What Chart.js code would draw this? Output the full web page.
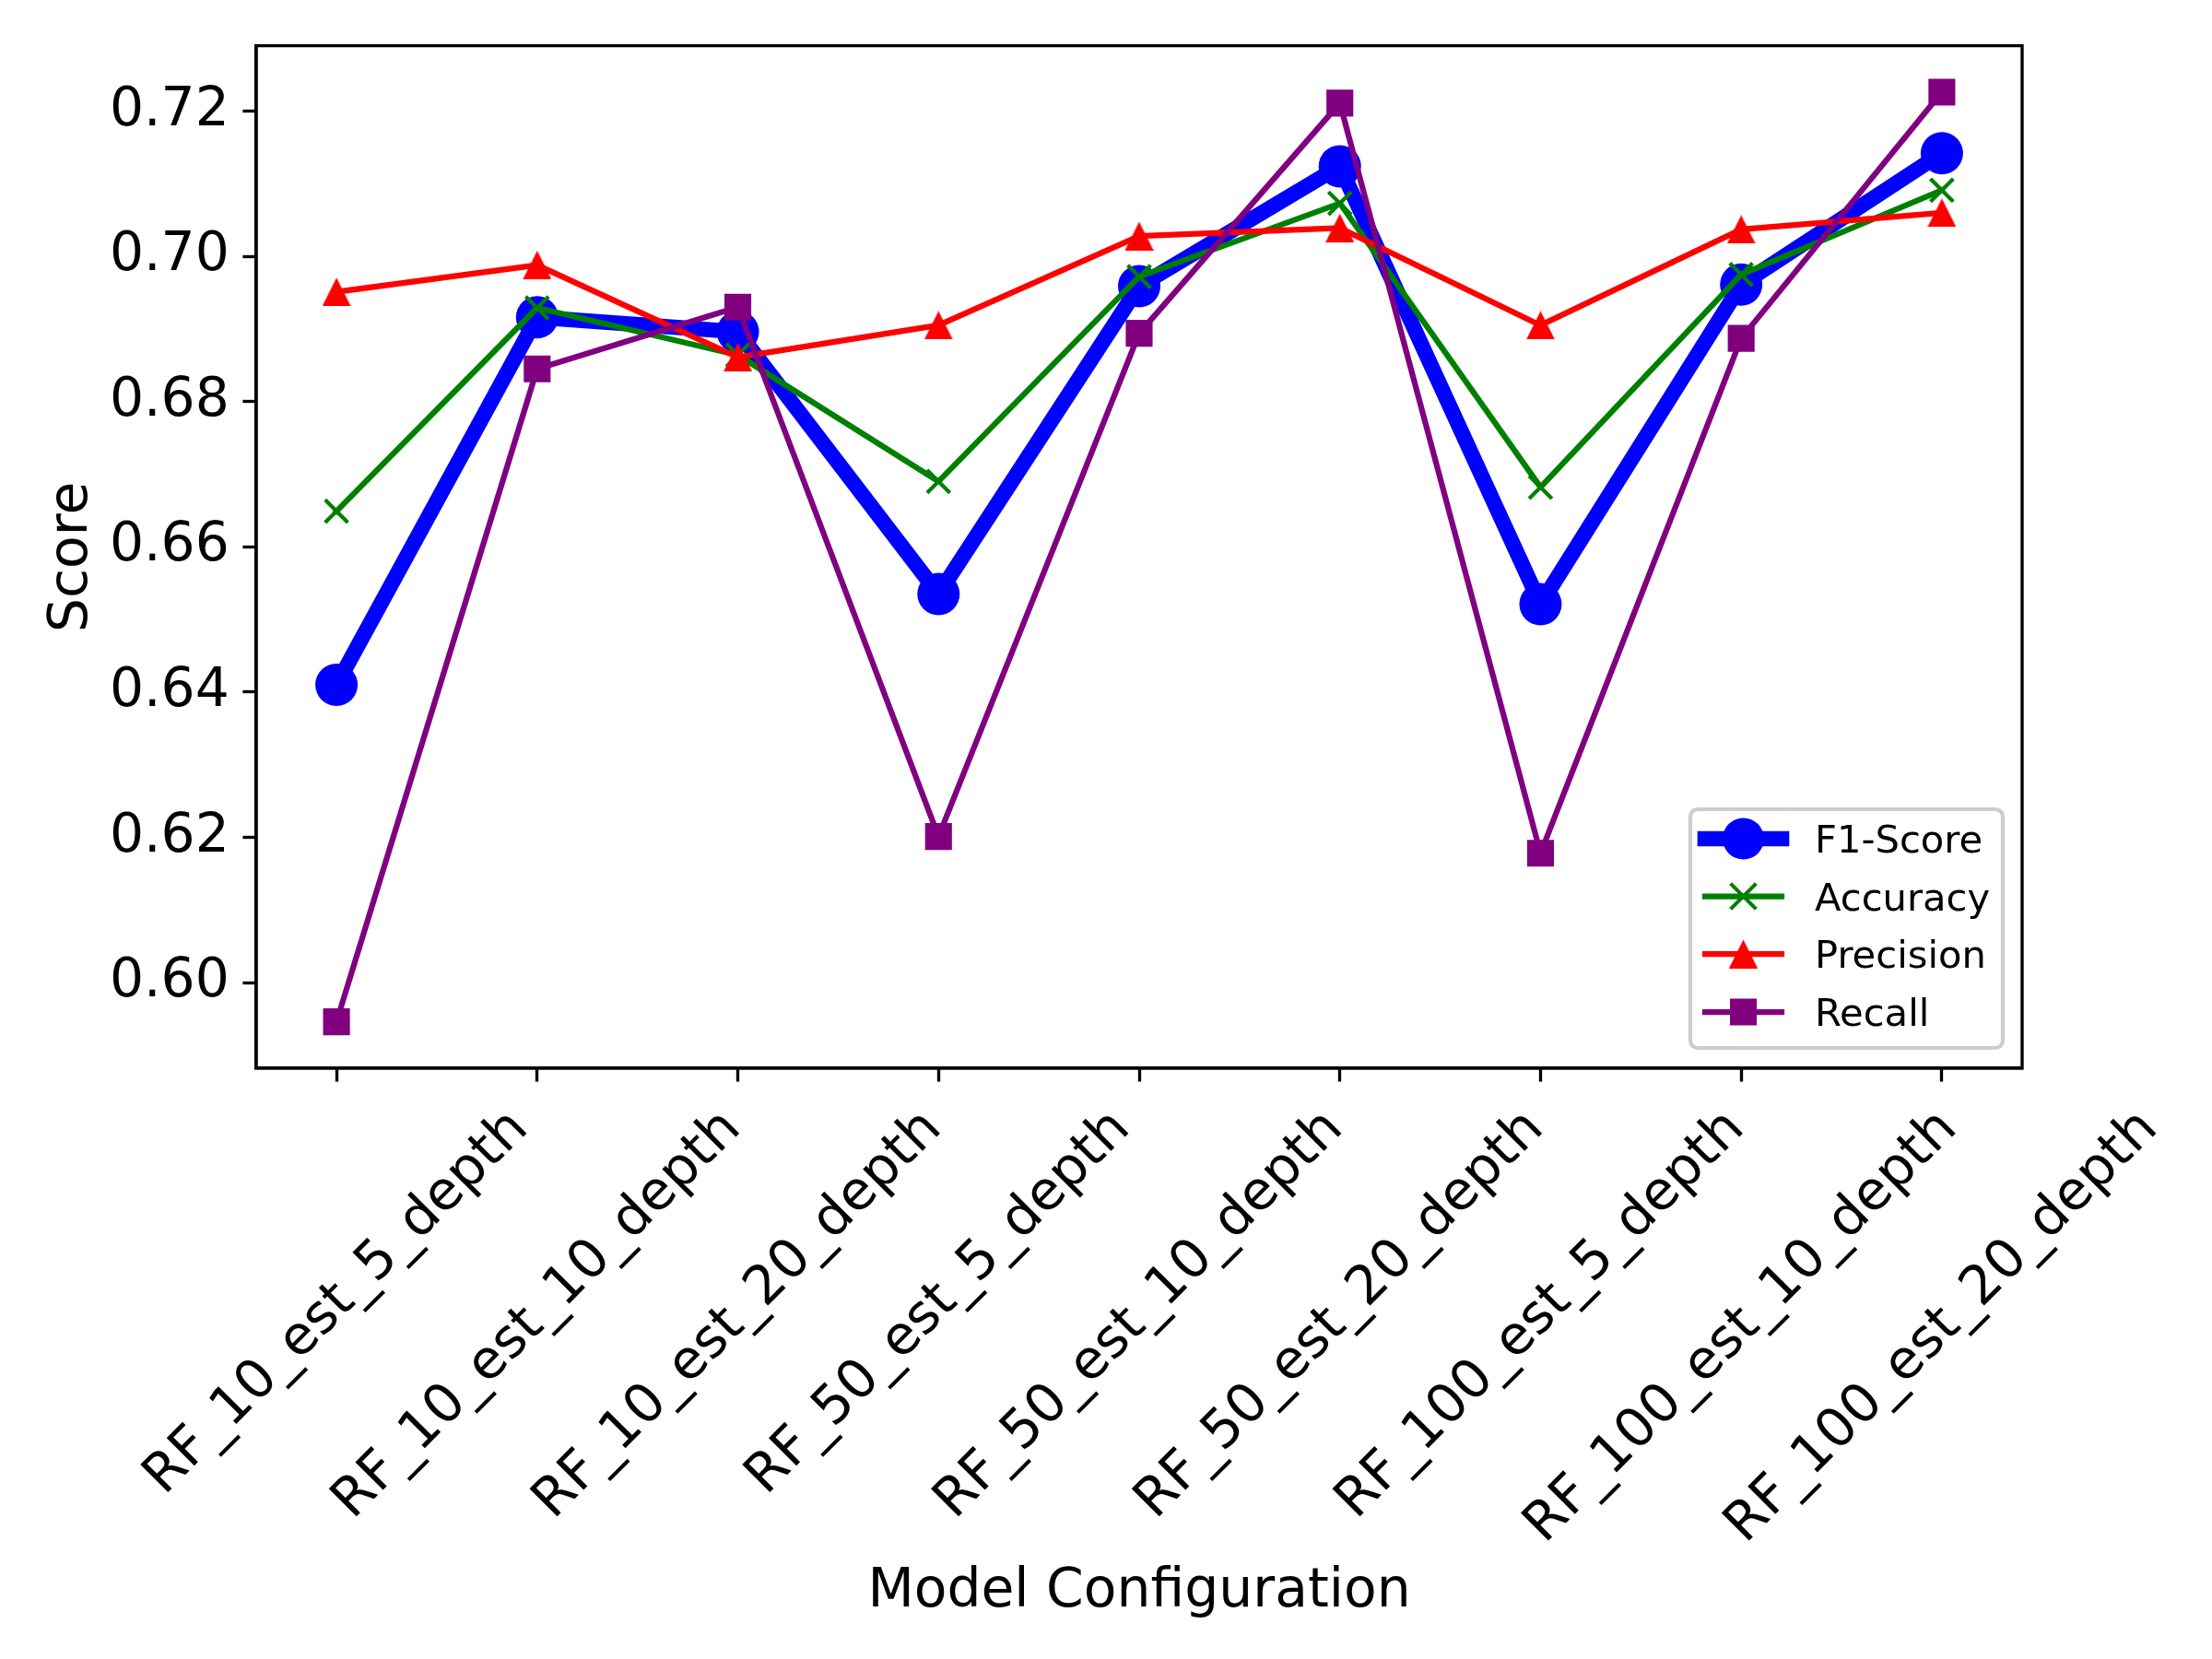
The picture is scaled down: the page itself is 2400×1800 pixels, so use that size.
<!DOCTYPE html>
<html>
<head>
<meta charset="utf-8">
<title>Model Configuration scores</title>
<script src="https://cdn.jsdelivr.net/npm/chart.js@4.4.1/dist/chart.umd.min.js"></script>
<style>
  html, body { margin: 0; padding: 0; background: #ffffff; }
  #wrap { width: 2400px; height: 1800px; }
</style>
</head>
<body>
<div id="wrap"><canvas id="score-chart" width="2400" height="1800"></canvas></div>
<script>
// values
var categories = [
    'RF_10_est_5_depth', 'RF_10_est_10_depth', 'RF_10_est_20_depth',
    'RF_50_est_5_depth', 'RF_50_est_10_depth', 'RF_50_est_20_depth',
    'RF_100_est_5_depth', 'RF_100_est_10_depth', 'RF_100_est_20_depth'
];
var f1Score   = [0.6410, 0.6916, 0.6896, 0.6535, 0.6959, 0.7124, 0.6521, 0.6961, 0.7142];
var accuracy  = [0.6649, 0.6929, 0.6864, 0.6690, 0.6972, 0.7073, 0.6682, 0.6975, 0.7091];
var precision = [0.6951, 0.6988, 0.6861, 0.6905, 0.7028, 0.7039, 0.6905, 0.7037, 0.7060];
var recall    = [0.5946, 0.6845, 0.6930, 0.6201, 0.6894, 0.7211, 0.6178, 0.6887, 0.7226];
var seriesNames = ['F1-Score', 'Accuracy', 'Precision', 'Recall'];
var yTicks = [0.60, 0.62, 0.64, 0.66, 0.68, 0.70, 0.72];

;(function () {
    'use strict';

    var FONT = '"DejaVu Sans", "Liberation Sans", sans-serif';
    var PT = 300 / 72;              // figure was 300 dpi
    var BIG = 14 * PT;               // tick labels + axis labels
    var SMALL = 10 * PT;             // legend

    var colors = {
        'F1-Score': '#0000ff',
        'Accuracy': '#008000',
        'Precision': '#ff0000',
        'Recall': '#800080'
    };

    // matplotlib '^' marker as an image
    function triangleImage(color) {
        var c = document.createElement('canvas');
        c.width = 31; c.height = 31;
        var g = c.getContext('2d');
        g.fillStyle = color;
        g.beginPath();
        g.moveTo(15.5, 0);
        g.lineTo(31, 31);
        g.lineTo(0, 31);
        g.closePath();
        g.fill();
        return c;
    }
    var triImg = triangleImage(colors['Precision']);

    function toPoints(arr) {
        return arr.map(function (v, i) { return { x: i, y: v }; });
    }

    var lineBase = {
        tension: 0,
        borderJoinStyle: 'round',
        borderCapStyle: 'square',
        fill: false
    };

    var datasets = [
        Object.assign({}, lineBase, {
            label: seriesNames[0], data: toPoints(f1Score), order: 3,
            borderColor: colors['F1-Score'], borderWidth: 4 * PT,
            pointStyle: 'circle', pointRadius: 23,
            pointBackgroundColor: colors['F1-Score'], pointBorderWidth: 0
        }),
        Object.assign({}, lineBase, {
            label: seriesNames[1], data: toPoints(accuracy), order: 2,
            borderColor: colors['Accuracy'], borderWidth: 1.5 * PT,
            pointStyle: 'crossRot', pointRadius: 17.5,
            pointBorderColor: colors['Accuracy'], pointBorderWidth: 1 * PT
        }),
        Object.assign({}, lineBase, {
            label: seriesNames[2], data: toPoints(precision), order: 1,
            borderColor: colors['Precision'], borderWidth: 1.5 * PT,
            pointStyle: triImg, pointRadius: 16
        }),
        Object.assign({}, lineBase, {
            label: seriesNames[3], data: toPoints(recall), order: 0,
            borderColor: colors['Recall'], borderWidth: 1.5 * PT,
            pointStyle: 'rect', pointRadius: 20.6,
            pointBackgroundColor: colors['Recall'], pointBorderWidth: 0
        })
    ];

    // full box around the plot, like matplotlib spines
    var frame = {
        id: 'frame',
        afterDatasetsDraw: function (chart) {
            var a = chart.chartArea, ctx = chart.ctx;
            ctx.save();
            ctx.strokeStyle = '#000';
            ctx.lineWidth = 0.8 * PT;
            ctx.strokeRect(a.left, a.top, a.right - a.left, a.bottom - a.top);
            ctx.restore();
        }
    };

    function drawMarker(ctx, name, x, y) {
        var col = colors[name];
        ctx.save();
        if (name === 'F1-Score') {
            ctx.fillStyle = col;
            ctx.beginPath(); ctx.arc(x, y, 22.5, 0, Math.PI * 2); ctx.fill();
        } else if (name === 'Accuracy') {
            ctx.strokeStyle = col; ctx.lineWidth = 1 * PT;
            ctx.beginPath();
            ctx.moveTo(x - 12.4, y - 12.4); ctx.lineTo(x + 12.4, y + 12.4);
            ctx.moveTo(x - 12.4, y + 12.4); ctx.lineTo(x + 12.4, y - 12.4);
            ctx.stroke();
        } else if (name === 'Precision') {
            ctx.drawImage(triImg, x - 15.5, y - 15.5);
        } else {
            ctx.fillStyle = col;
            ctx.fillRect(x - 14.5, y - 14.5, 29, 29);
        }
        ctx.restore();
    }

    // legend in lower right, line + marker handles
    var legendBox = {
        id: 'legendBox',
        afterDatasetsDraw: function (chart) {
            var ctx = chart.ctx;
            var bx = 1834, by = 878, bw = 339, bh = 259, r = 8;
            ctx.save();
            ctx.fillStyle = 'rgba(255,255,255,0.8)';
            ctx.strokeStyle = '#cccccc';
            ctx.lineWidth = 1 * PT;
            ctx.beginPath();
            ctx.roundRect(bx, by, bw, bh, r);
            ctx.fill();
            ctx.stroke();

            var rowsY = [910, 972.5, 1035, 1098];
            seriesNames.forEach(function (name, i) {
                var ds = datasets[i];
                var y = rowsY[i];
                ctx.strokeStyle = ds.borderColor;
                ctx.lineWidth = ds.borderWidth;
                ctx.lineCap = 'square';
                ctx.beginPath();
                ctx.moveTo(1850, y); ctx.lineTo(1933, y);
                ctx.stroke();
                drawMarker(ctx, name, 1891.5, y);
                ctx.fillStyle = '#000';
                ctx.font = SMALL + 'px ' + FONT;
                ctx.textAlign = 'left';
                ctx.textBaseline = 'alphabetic';
                ctx.fillText(name, 1969, y + 0.729 * SMALL / 2);
            });
            ctx.restore();
        }
    };

    // rotated category labels (centred under each tick) and axis titles
    var labels = {
        id: 'labels',
        afterDraw: function (chart) {
            var ctx = chart.ctx, xs = chart.scales.x, a = chart.chartArea;
            ctx.save();
            ctx.fillStyle = '#000';
            ctx.font = BIG + 'px ' + FONT;
            ctx.textAlign = 'center';
            ctx.textBaseline = 'alphabetic';
            var top = a.bottom + 36;
            var h = 0.968 * BIG;
            categories.forEach(function (lab, i) {
                var w = ctx.measureText(lab).width;
                var d = (w + h) * Math.SQRT1_2;
                ctx.save();
                ctx.translate(xs.getPixelForValue(i), top + d / 2);
                ctx.rotate(-Math.PI / 4);
                ctx.fillText(lab, 0, 0.276 * BIG);
                ctx.restore();
            });

            ctx.fillText('Model Configuration', (a.left + a.right) / 2, 1742.7);

            ctx.save();
            ctx.translate(93.7, (a.top + a.bottom) / 2);
            ctx.rotate(-Math.PI / 2);
            ctx.fillText('Score', 0, 0);
            ctx.restore();
            ctx.restore();
        }
    };

    var axisLook = {
        grid: {
            drawOnChartArea: false, drawTicks: true,
            tickLength: 3.5 * PT, tickWidth: 0.8 * PT, tickColor: '#000'
        },
        border: { display: true, color: '#000', width: 0.8 * PT }
    };

    new Chart(document.getElementById('score-chart'), {
        type: 'line',
        data: { datasets: datasets },
        options: {
            responsive: false,
            devicePixelRatio: 1,
            animation: false,
            events: [],
            layout: { padding: { left: 0, top: 46, right: 206, bottom: 0 } },
            plugins: {
                legend: { display: false },
                tooltip: { enabled: false }
            },
            scales: {
                x: Object.assign({}, axisLook, {
                    type: 'linear',
                    min: -0.4,
                    max: 8.4,
                    afterBuildTicks: function (scale) {
                        scale.ticks = categories.map(function (c, i) { return { value: i }; });
                    },
                    afterFit: function (scale) { scale.height = 1800 - 1159; },
                    ticks: { display: false }
                }),
                y: Object.assign({}, axisLook, {
                    type: 'linear',
                    min: 0.5882,
                    max: 0.7290,
                    afterBuildTicks: function (scale) {
                        scale.ticks = yTicks.map(function (v) { return { value: v }; });
                    },
                    afterFit: function (scale) { scale.width = 278; },
                    ticks: {
                        color: '#000',
                        padding: 3.5 * PT,
                        font: { family: FONT, size: BIG },
                        callback: function (v) { return Number(v).toFixed(2); }
                    }
                })
            }
        },
        plugins: [frame, legendBox, labels]
    });
})();
</script>
</body>
</html>
